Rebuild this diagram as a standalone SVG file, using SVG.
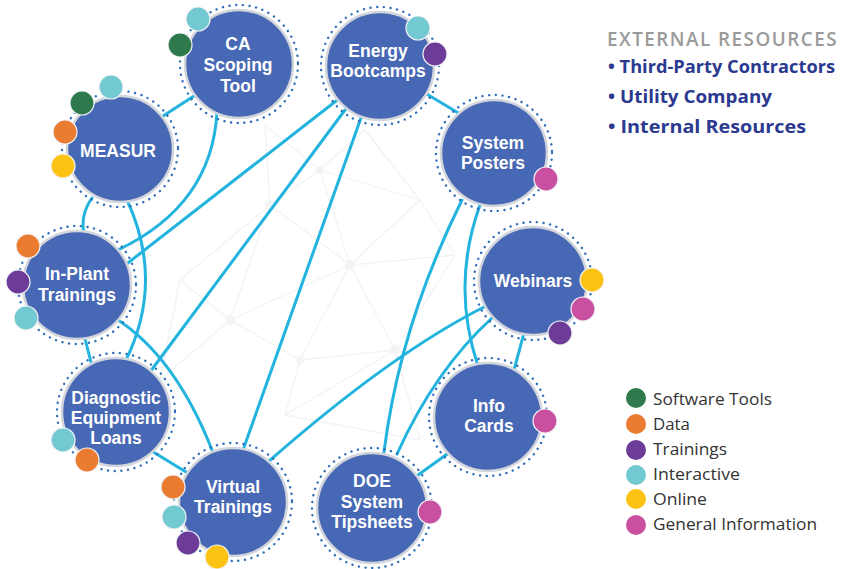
<svg xmlns="http://www.w3.org/2000/svg" width="843" height="569" viewBox="0 0 843 569">
<defs>
<style>
.mesh line{stroke:#f2f3f5;stroke-width:1.3}
.mesh circle{fill:#f3f4f6}
.conn path{fill:none;stroke:#22b4de;stroke-width:3;stroke-linecap:round}
.ring{fill:none;stroke:#2f6fb8;stroke-width:2.4;stroke-dasharray:0.1 6.6;stroke-linecap:round}
.node{fill:#4768b4;stroke:#d3d5dc;stroke-width:2.5}
.lbl{font-family:"Liberation Sans",Arial,sans-serif;font-weight:700;font-size:17.5px;fill:#ffffff;text-anchor:middle}
.b{stroke:#f4f4f6;stroke-width:1.2}
.sw{fill:#2e7a4c}.da{fill:#e97c31}.tr{fill:#6c3c98}.in{fill:#72c9d1}.on{fill:#fcc314}.gi{fill:#c94fa0}
.ext{font-family:"Open Sans","Liberation Sans",sans-serif;font-weight:600;font-size:19px;fill:#9a9a9a;letter-spacing:1.5px}
.res{font-family:"Open Sans","Liberation Sans",sans-serif;font-weight:700;font-size:18px;fill:#2b3990}
.leg{font-family:"Open Sans","Liberation Sans",sans-serif;font-size:17px;fill:#333333}
</style>
</defs>
<rect width="843" height="569" fill="#ffffff"/>
<g class="mesh">
<line x1="265" y1="125" x2="320" y2="170"/><line x1="320" y1="170" x2="270" y2="205"/><line x1="265" y1="125" x2="270" y2="205"/>
<line x1="320" y1="170" x2="365" y2="130"/><line x1="365" y1="130" x2="420" y2="200"/><line x1="320" y1="170" x2="420" y2="200"/>
<line x1="270" y1="205" x2="350" y2="265"/><line x1="320" y1="170" x2="350" y2="265"/><line x1="420" y1="200" x2="350" y2="265"/>
<line x1="420" y1="200" x2="455" y2="255"/><line x1="350" y1="265" x2="455" y2="255"/><line x1="270" y1="205" x2="180" y2="280"/>
<line x1="180" y1="280" x2="230" y2="320"/><line x1="230" y1="320" x2="350" y2="265"/><line x1="270" y1="205" x2="230" y2="320"/>
<line x1="230" y1="320" x2="300" y2="360"/><line x1="350" y1="265" x2="300" y2="360"/><line x1="350" y1="265" x2="395" y2="350"/>
<line x1="300" y1="360" x2="395" y2="350"/><line x1="455" y1="255" x2="395" y2="350"/><line x1="300" y1="360" x2="285" y2="415"/>
<line x1="395" y1="350" x2="285" y2="415"/><line x1="395" y1="350" x2="420" y2="440"/><line x1="285" y1="415" x2="420" y2="440"/>
<line x1="180" y1="280" x2="160" y2="380"/><line x1="230" y1="320" x2="160" y2="380"/>
<circle cx="270" cy="205" r="5"/><circle cx="350" cy="265" r="5"/><circle cx="230" cy="320" r="5"/><circle cx="395" cy="350" r="5"/><circle cx="300" cy="360" r="4"/><circle cx="320" cy="170" r="4"/>
</g>
<g id="connectors" class="conn">
<path d="M160,118 L197,94"/>
<path d="M217,112 Q212,205 118,250"/>
<path d="M420,90 L460,114"/>
<path d="M336,101 L124,266"/>
<path d="M345,110 L150,372"/>
<path d="M362,115 L243,450"/>
<path d="M92,198 Q80,215 84,234"/>
<path d="M127,200 Q165,282 125,362"/>
<path d="M84,335 L92,366"/>
<path d="M115,318 Q175,356 212,450"/>
<path d="M150,450 L186,472"/>
<path d="M462,200 Q400,325 384,452"/>
<path d="M480,205 Q451,285 478,366"/>
<path d="M486,306 Q392,353 268,462"/>
<path d="M492,318 Q435,370 397,454"/>
<path d="M524,333 L514,370"/>
<path d="M450,452 L418,475"/>
</g>
<g id="n-ca">
<circle class="ring" cx="239" cy="64" r="59"/><circle class="node" cx="239" cy="64" r="54"/>
<text class="lbl" x="238" y="50">CA</text><text class="lbl" x="238" y="71">Scoping</text><text class="lbl" x="238" y="92">Tool</text>
<circle class="b in" cx="198" cy="19" r="12"/><circle class="b sw" cx="180" cy="45" r="12"/>
</g>
<g id="n-measur">
<circle class="ring" cx="120" cy="149" r="58"/><circle class="node" cx="120" cy="149" r="53"/>
<text class="lbl" x="118" y="157">MEASUR</text>
<circle class="b in" cx="111" cy="87" r="12"/><circle class="b sw" cx="82" cy="103" r="12"/><circle class="b da" cx="65" cy="132" r="12"/><circle class="b on" cx="63" cy="166" r="12"/>
</g>
<g id="n-energy">
<circle class="ring" cx="380" cy="66" r="59"/><circle class="node" cx="380" cy="66" r="54"/>
<text class="lbl" x="378" y="57">Energy</text><text class="lbl" x="378" y="77">Bootcamps</text>
<circle class="b in" cx="418" cy="28" r="12"/><circle class="b tr" cx="435" cy="54" r="12"/>
</g>
<g id="n-posters">
<circle class="ring" cx="494" cy="153" r="58"/><circle class="node" cx="494" cy="153" r="53"/>
<text class="lbl" x="493" y="149">System</text><text class="lbl" x="493" y="169">Posters</text>
<circle class="b gi" cx="546" cy="179" r="12"/>
</g>
<g id="n-webinars">
<circle class="ring" cx="533" cy="281" r="59"/><circle class="node" cx="533" cy="281" r="54"/>
<text class="lbl" x="533" y="287">Webinars</text>
<circle class="b on" cx="592" cy="280" r="12"/><circle class="b gi" cx="583" cy="309" r="12"/><circle class="b tr" cx="560" cy="333" r="12"/>
</g>
<g id="n-info">
<circle class="ring" cx="488" cy="417" r="59"/><circle class="node" cx="488" cy="417" r="54"/>
<text class="lbl" x="489" y="412">Info</text><text class="lbl" x="489" y="432">Cards</text>
<circle class="b gi" cx="545" cy="421" r="12"/>
</g>
<g id="n-doe">
<circle class="ring" cx="372" cy="508" r="60"/><circle class="node" cx="372" cy="508" r="55"/>
<text class="lbl" x="372" y="487">DOE</text><text class="lbl" x="372" y="508">System</text><text class="lbl" x="372" y="528">Tipsheets</text>
<circle class="b gi" cx="430" cy="512" r="12"/>
</g>
<g id="n-virtual">
<circle class="ring" cx="233" cy="502" r="59"/><circle class="node" cx="233" cy="502" r="54"/>
<text class="lbl" x="233" y="493">Virtual</text><text class="lbl" x="233" y="513">Trainings</text>
<circle class="b da" cx="173" cy="487" r="12"/><circle class="b in" cx="174" cy="517" r="12"/><circle class="b tr" cx="188" cy="543" r="12"/><circle class="b on" cx="217" cy="557" r="12"/>
</g>
<g id="n-diagnostic">
<circle class="ring" cx="116" cy="412" r="59"/><circle class="node" cx="116" cy="412" r="54"/>
<text class="lbl" x="116" y="404">Diagnostic</text><text class="lbl" x="116" y="424">Equipment</text><text class="lbl" x="116" y="444">Loans</text>
<circle class="b in" cx="63" cy="440" r="12"/><circle class="b da" cx="87" cy="460" r="12"/>
</g>
<g id="n-inplant">
<circle class="ring" cx="77" cy="285" r="59"/><circle class="node" cx="77" cy="285" r="54"/>
<text class="lbl" x="77" y="280">In-Plant</text><text class="lbl" x="77" y="301">Trainings</text>
<circle class="b da" cx="28" cy="246" r="12"/><circle class="b tr" cx="18" cy="282" r="12"/><circle class="b in" cx="26" cy="318" r="12"/>
</g>
<g id="external">
<text class="ext" x="607" y="46" textLength="231" lengthAdjust="spacingAndGlyphs">EXTERNAL RESOURCES</text>
<text class="res" x="608" y="73" textLength="227" lengthAdjust="spacingAndGlyphs">• Third-Party Contractors</text>
<text class="res" x="608" y="103" textLength="164" lengthAdjust="spacingAndGlyphs">• Utility Company</text>
<text class="res" x="608" y="133" textLength="198" lengthAdjust="spacingAndGlyphs">• Internal Resources</text>
</g>
<g id="legend">
<circle class="sw" cx="636" cy="398" r="10"/><text class="leg" x="653" y="405" textLength="119" lengthAdjust="spacingAndGlyphs">Software Tools</text>
<circle class="da" cx="636" cy="424" r="10"/><text class="leg" x="653" y="430" textLength="37" lengthAdjust="spacingAndGlyphs">Data</text>
<circle class="tr" cx="636" cy="450" r="10"/><text class="leg" x="653" y="455" textLength="74" lengthAdjust="spacingAndGlyphs">Trainings</text>
<circle class="in" cx="636" cy="475" r="10"/><text class="leg" x="653" y="480" textLength="87" lengthAdjust="spacingAndGlyphs">Interactive</text>
<circle class="on" cx="636" cy="499" r="10"/><text class="leg" x="653" y="505" textLength="54" lengthAdjust="spacingAndGlyphs">Online</text>
<circle class="gi" cx="636" cy="525" r="10"/><text class="leg" x="653" y="530" textLength="164" lengthAdjust="spacingAndGlyphs">General Information</text>
</g>
</svg>
